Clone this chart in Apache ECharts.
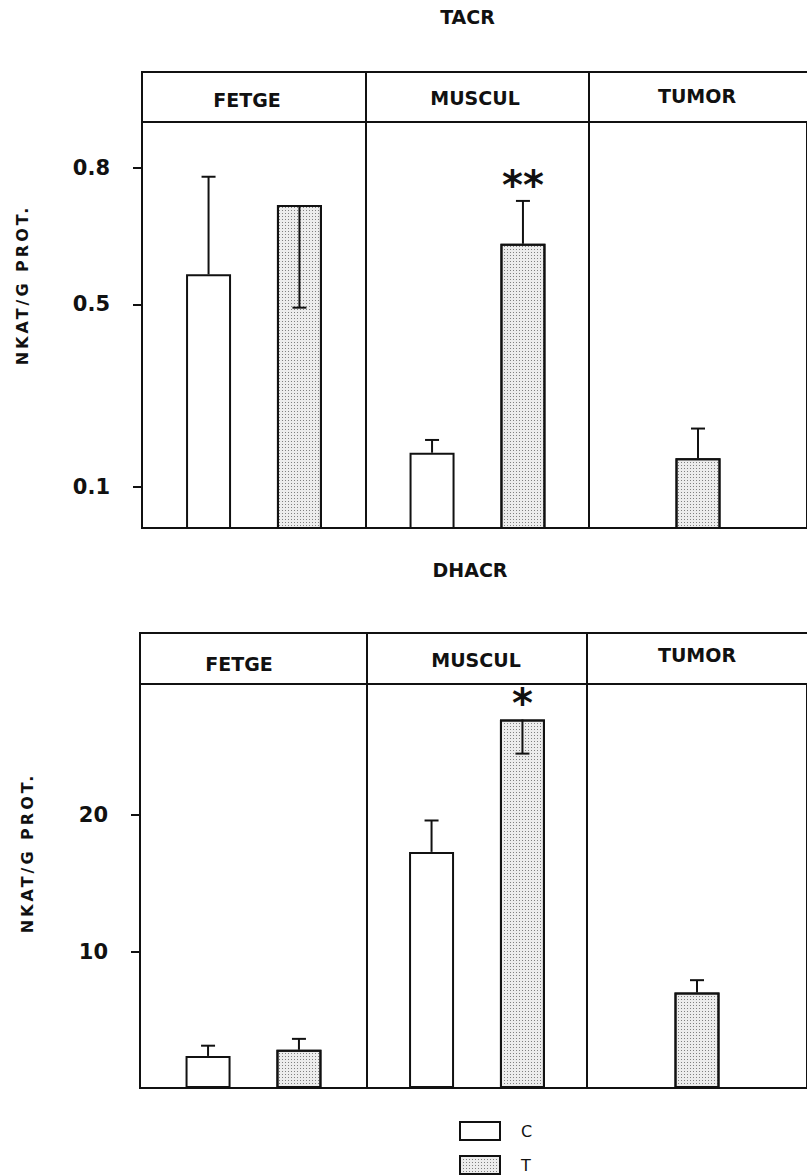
<!DOCTYPE html>
<html>
<head>
<meta charset="utf-8">
<script src="https://cdn.jsdelivr.net/npm/echarts@6/dist/echarts.min.js"></script>
<style>
html,body{margin:0;padding:0;background:#fff;}
#chart{width:807px;height:1176px;}
</style>
</head>
<body>
<div id="chart"></div>
<script>
// ---------- DATA ----------
const facets = ['FETGE', 'MUSCUL', 'TUMOR'];
const groupNames = ['C', 'T'];
const yAxisName = 'NKAT/G PROT.';

// TACR panel
const tacrTitle = 'TACR';
const tacrC = [0.566, 0.175, null];
const tacrCErrEnd = [0.78, 0.203, null];
const tacrT = [0.718, 0.633, 0.163];
const tacrTErrEnd = [0.493, 0.727, 0.228];
const tacrSig = ['', '**', ''];
const tacrTicks = [0.1, 0.5, 0.8];

// DHACR panel
const dhacrTitle = 'DHACR';
const dhacrC = [2.35, 17.3, null];
const dhacrCErrEnd = [3.1, 19.6, null];
const dhacrT = [2.8, 27.0, 7.0];
const dhacrTErrEnd = [3.6, 24.5, 7.9];
const dhacrSig = ['', '*', ''];
const dhacrTicks = [10, 20];

// ---------- LAYOUT / STYLE ----------
const FONT = 'DejaVu Sans';
const INK = '#111';
const BAR_W = 45;
const BAR_GAP = 1.02;
const PAIR = (BAR_W + BAR_W * BAR_GAP) / 2;
const CAP = 7;

const panels = [
  {
    title: tacrTitle, c: tacrC, cErr: tacrCErrEnd, t: tacrT, tErr: tacrTErrEnd, sig: tacrSig,
    ticks: tacrTicks, min: 0.01, max: 0.9,
    headerTop: 72, gridTop: 122, gridBottom: 528,
    lefts: [142, 366, 589], rights: [366, 589, 816],
    headX: [247, 475, 697], headY: [100, 97.5, 95.5],
    titlePos: [467.5, 17], nameGap: 112, namePad: 80
  },
  {
    title: dhacrTitle, c: dhacrC, cErr: dhacrCErrEnd, t: dhacrT, tErr: dhacrTErrEnd, sig: dhacrSig,
    ticks: dhacrTicks, min: 0, max: 29.6,
    headerTop: 633, gridTop: 684, gridBottom: 1088,
    lefts: [140, 367, 587], rights: [367, 587, 817],
    headX: [239, 476, 697], headY: [663.5, 660, 654.5],
    titlePos: [470, 569.5], nameGap: 105, namePad: 66
  }
];
const legendTops = [1121, 1155];

const grids = [], xAxes = [], yAxes = [], series = [], graphics = [];

const cStyle = { color: '#ffffff', borderColor: INK, borderWidth: 2 };
const tStyle = {
  color: '#ececec', borderColor: INK, borderWidth: 2,
  decal: { symbol: 'rect', symbolSize: 1, dashArrayX: [1, 2], dashArrayY: [1, 2], color: 'rgba(40,40,40,0.55)' }
};

function txt(text, x, y, size, weight) {
  return {
    type: 'text', x: x, y: y, silent: true,
    style: {
      text: text, fontSize: size, fontWeight: weight, fontFamily: FONT, fill: INK,
      textAlign: 'center', textVerticalAlign: 'middle', align: 'center', verticalAlign: 'middle'
    }
  };
}

panels.forEach((p, pi) => {
  graphics.push(txt(p.title, p.titlePos[0], p.titlePos[1], 19, 'bold'));
  facets.forEach((fname, f) => {
    const gi = pi * 3 + f;
    const left = p.lefts[f], width = p.rights[f] - p.lefts[f];
    grids.push({
      left: left, top: p.gridTop, width: width, height: p.gridBottom - p.gridTop,
      show: true, borderColor: INK, borderWidth: 2, backgroundColor: 'transparent'
    });
    // header box + label
    graphics.push({
      type: 'rect', silent: true,
      shape: { x: left, y: p.headerTop, width: width, height: p.gridTop - p.headerTop },
      style: { fill: 'none', stroke: INK, lineWidth: 2 }
    });
    graphics.push(txt(fname, p.headX[f], p.headY[f], 19, 'bold'));

    xAxes.push({ gridIndex: gi, type: 'category', data: [fname], show: false });
    const first = f === 0;
    yAxes.push({
      gridIndex: gi, type: 'value', min: p.min, max: p.max, show: first,
      axisLine: { show: true, lineStyle: { color: INK, width: 2 } },
      axisTick: { show: true, inside: false, length: 9, customValues: p.ticks, lineStyle: { color: INK, width: 2 } },
      axisLabel: {
        show: true, customValues: p.ticks, margin: 32, color: INK,
        fontFamily: FONT, fontSize: 21, fontWeight: 'bold',
        formatter: v => String(v)
      },
      splitLine: { show: false },
      name: first ? yAxisName : '',
      nameLocation: 'middle', nameRotate: 90, nameGap: p.nameGap,
      nameTextStyle: { fontFamily: FONT, fontSize: 16, fontWeight: 'bold', color: INK, padding: [0, 0, 0, p.namePad] }
    });

    const hasC = p.c[f] !== null;
    const errData = [], sides = [], sigs = [];
    if (hasC) {
      series.push({
        type: 'bar', name: groupNames[0], xAxisIndex: gi, yAxisIndex: gi,
        data: [p.c[f]], barWidth: BAR_W, barGap: (BAR_GAP * 100) + '%',
        itemStyle: cStyle, silent: true, z: 2
      });
      errData.push([0, p.c[f], p.cErr[f]]);
      sides.push(-1);
      sigs.push('');
    }
    series.push({
      type: 'bar', name: groupNames[1], xAxisIndex: gi, yAxisIndex: gi,
      data: [p.t[f]], barWidth: BAR_W, barGap: (BAR_GAP * 100) + '%',
      itemStyle: tStyle, silent: true, z: 2
    });
    errData.push([0, p.t[f], p.tErr[f]]);
    sides.push(hasC ? 1 : 0);
    sigs.push(p.sig[f]);

    series.push({
      type: 'custom', name: 'err', xAxisIndex: gi, yAxisIndex: gi, z: 5, silent: true,
      data: errData,
      renderItem: (params, api) => {
        const i = params.dataIndex;
        const base = api.coord([api.value(0), api.value(1)]);
        const end = api.coord([api.value(0), api.value(2)]);
        const x = base[0] + sides[i] * PAIR;
        const children = [
          { type: 'line', shape: { x1: x, y1: base[1], x2: x, y2: end[1] }, style: { stroke: INK, lineWidth: 2 } },
          { type: 'line', shape: { x1: x - CAP, y1: end[1], x2: x + CAP, y2: end[1] }, style: { stroke: INK, lineWidth: 2 } }
        ];
        if (sigs[i]) {
          children.push({
            type: 'text', x: x, y: Math.min(base[1], end[1]) - 16,
            style: {
              text: sigs[i], fontSize: 40, fontWeight: 'bold', fontFamily: FONT, fill: INK,
              textAlign: 'center', textVerticalAlign: 'middle', align: 'center', verticalAlign: 'middle'
            }
          });
        }
        return { type: 'group', children: children };
      }
    });
  });
});

const legends = groupNames.map((name, k) => ({
  data: [name], orient: 'vertical', left: 459, top: legendTops[k], padding: 0,
  itemWidth: 40, itemHeight: 18, icon: 'rect', selectedMode: false,
  textStyle: { fontFamily: FONT, fontSize: 16, color: INK, padding: [0, 0, 0, 16] }
}));

const chart = echarts.init(document.getElementById('chart'), null, { renderer: 'svg', width: 807, height: 1176 });
chart.setOption({
  backgroundColor: '#ffffff',
  animation: false,
  grid: grids,
  xAxis: xAxes,
  yAxis: yAxes,
  legend: legends,
  graphic: graphics,
  series: series
});

function spaceName() {
  document.querySelectorAll('#chart text').forEach(t => {
    if (t.textContent === yAxisName) t.setAttribute('letter-spacing', '3');
  });
}
chart.on('finished', spaceName);
setTimeout(spaceName, 50);
</script>
</body>
</html>
